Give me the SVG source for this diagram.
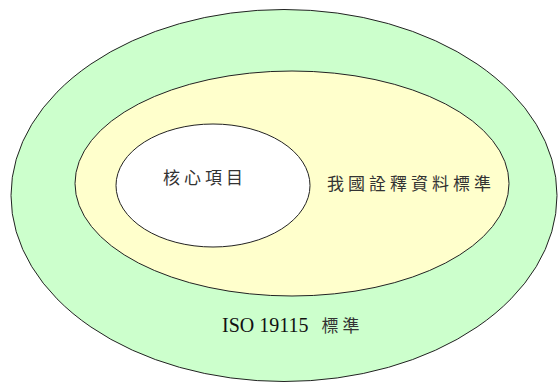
<svg xmlns="http://www.w3.org/2000/svg" width="558" height="383" viewBox="0 0 558 383">
<style>
.e{stroke:#222;stroke-width:1}
.cjk{font-family:"Noto Sans CJK TC","Noto Sans CJK SC",sans-serif;font-size:17px;fill:#333;letter-spacing:4px}
.lat{font-family:"Liberation Serif",serif;font-size:20px;fill:#111}
</style>
<rect width="558" height="383" fill="#fff"/>
<g id="iso">
<ellipse class="e" cx="284" cy="195.5" rx="273" ry="186" fill="#CCFFCC"/>
<text x="222" y="332"><tspan class="lat">ISO 19115</tspan><tspan class="cjk" dx="13">標準</tspan></text>
</g>
<g id="national">
<ellipse class="e" cx="292" cy="183.5" rx="217" ry="112.5" fill="#FFFFCC"/>
<text class="cjk" x="327" y="190">我國詮釋資料標準</text>
</g>
<g id="core">
<ellipse class="e" cx="213" cy="185.5" rx="97" ry="61.5" fill="#fff"/>
<text class="cjk" x="163" y="184">核心項目</text>
</g>
<g id="connectors"/>
</svg>
